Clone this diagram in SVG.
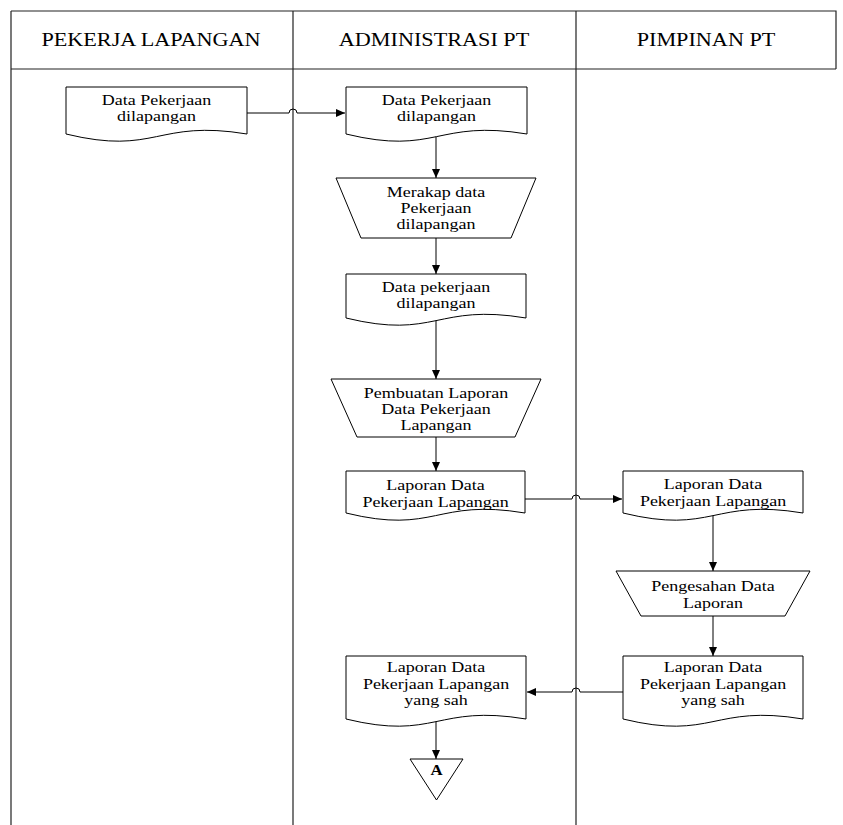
<svg xmlns="http://www.w3.org/2000/svg" width="843" height="825" viewBox="0 0 843 825">
<style>
.lane{fill:none;stroke:#222;stroke-width:1.2}
.shape{fill:#fff;stroke:#000;stroke-width:1}
.conn{fill:none;stroke:#000;stroke-width:1}
.hd{font-family:"Liberation Serif","Times New Roman",serif;font-size:18.5px;text-anchor:middle;fill:#000}
.tx{font-family:"Liberation Serif","Times New Roman",serif;font-size:15px;text-anchor:middle;fill:#000}
.ta{font-family:"Liberation Serif","Times New Roman",serif;font-size:14px;font-weight:bold;text-anchor:middle;fill:#000}
</style>
<defs>
<marker id="ah" markerWidth="9" markerHeight="8" refX="9" refY="4" orient="auto" markerUnits="userSpaceOnUse">
<path d="M0,0 L9,4 L0,8 z" fill="#000"/>
</marker>
</defs>
<rect width="843" height="825" fill="#fff"/>
<g id="lanes">
<path class="lane" d="M11,11 H836 V69 M11,69 H836 M11,11 V825 M293,11 V825 M576,11 V825"/>
<text class="hd" transform="translate(151,46) scale(1.2,1)">PEKERJA LAPANGAN</text>
<text class="hd" transform="translate(434,46) scale(1.2,1)">ADMINISTRASI PT</text>
<text class="hd" transform="translate(706,46) scale(1.2,1)">PIMPINAN PT</text>
</g>
<g id="connectors">
<path class="conn" d="M247,113 H289 A4,4 0 0 1 297,113 H345" marker-end="url(#ah)"/>
<path class="conn" d="M436,136 V178" marker-end="url(#ah)"/>
<path class="conn" d="M436,238 V274" marker-end="url(#ah)"/>
<path class="conn" d="M436,320 V379" marker-end="url(#ah)"/>
<path class="conn" d="M436,437 V471" marker-end="url(#ah)"/>
<path class="conn" d="M525,499 H572 A4,4 0 0 1 580,499 H622" marker-end="url(#ah)"/>
<path class="conn" d="M713,515 V571" marker-end="url(#ah)"/>
<path class="conn" d="M713,616 V656" marker-end="url(#ah)"/>
<path class="conn" d="M623,692 H580 A4,4 0 0 0 572,692 H527" marker-end="url(#ah)"/>
<path class="conn" d="M436,721 V759" marker-end="url(#ah)"/>
</g>
<g id="d1">
<path class="shape" d="M66,87 H247 V134 C156.5,119 156.5,156 66,134 Z"/>
<text class="tx" transform="translate(156.5,105) scale(1.2,1)">Data Pekerjaan</text>
<text class="tx" transform="translate(156.5,121) scale(1.2,1)">dilapangan</text>
</g>
<g id="d2">
<path class="shape" d="M346,87 H527 V134 C436.5,119 436.5,156 346,134 Z"/>
<text class="tx" transform="translate(436.5,105) scale(1.2,1)">Data Pekerjaan</text>
<text class="tx" transform="translate(436.5,121) scale(1.2,1)">dilapangan</text>
</g>
<g id="t1">
<path class="shape" d="M336,178 H536 L511,238 H361 Z"/>
<text class="tx" transform="translate(436,197) scale(1.2,1)">Merakap data</text>
<text class="tx" transform="translate(436,213) scale(1.2,1)">Pekerjaan</text>
<text class="tx" transform="translate(436,229) scale(1.2,1)">dilapangan</text>
</g>
<g id="d3">
<path class="shape" d="M346,274 H526 V318 C436,303 436,340 346,318 Z"/>
<text class="tx" transform="translate(436,292) scale(1.2,1)">Data pekerjaan</text>
<text class="tx" transform="translate(436,308) scale(1.2,1)">dilapangan</text>
</g>
<g id="t2">
<path class="shape" d="M331,379 H541 L515,437 H357 Z"/>
<text class="tx" transform="translate(436,398) scale(1.2,1)">Pembuatan Laporan</text>
<text class="tx" transform="translate(436,414) scale(1.2,1)">Data Pekerjaan</text>
<text class="tx" transform="translate(436,430) scale(1.2,1)">Lapangan</text>
</g>
<g id="d4">
<path class="shape" d="M346,471 H525 V513 C435.5,498 435.5,535 346,513 Z"/>
<text class="tx" transform="translate(435.5,490) scale(1.2,1)">Laporan Data</text>
<text class="tx" transform="translate(435.5,507) scale(1.2,1)">Pekerjaan Lapangan</text>
</g>
<g id="d5">
<path class="shape" d="M623,471 H803 V513 C713,498 713,535 623,513 Z"/>
<text class="tx" transform="translate(713,489) scale(1.2,1)">Laporan Data</text>
<text class="tx" transform="translate(713,506) scale(1.2,1)">Pekerjaan Lapangan</text>
</g>
<g id="t3">
<path class="shape" d="M616,571 H810 L785,616 H641 Z"/>
<text class="tx" transform="translate(713,591) scale(1.2,1)">Pengesahan Data</text>
<text class="tx" transform="translate(713,608) scale(1.2,1)">Laporan</text>
</g>
<g id="d7">
<path class="shape" d="M623,656 H803 V719 C713,704 713,741 623,719 Z"/>
<text class="tx" transform="translate(713,672) scale(1.2,1)">Laporan Data</text>
<text class="tx" transform="translate(713,689) scale(1.2,1)">Pekerjaan Lapangan</text>
<text class="tx" transform="translate(713,705) scale(1.2,1)">yang sah</text>
</g>
<g id="d6">
<path class="shape" d="M346,656 H526 V719 C436,704 436,741 346,719 Z"/>
<text class="tx" transform="translate(436,672) scale(1.2,1)">Laporan Data</text>
<text class="tx" transform="translate(436,689) scale(1.2,1)">Pekerjaan Lapangan</text>
<text class="tx" transform="translate(436,705) scale(1.2,1)">yang sah</text>
</g>
<g id="offpage">
<path class="shape" d="M410,759 H463 L436.5,800 Z"/>
<text class="ta" transform="translate(436.5,775) scale(1.2,1)">A</text>
</g>
</svg>
